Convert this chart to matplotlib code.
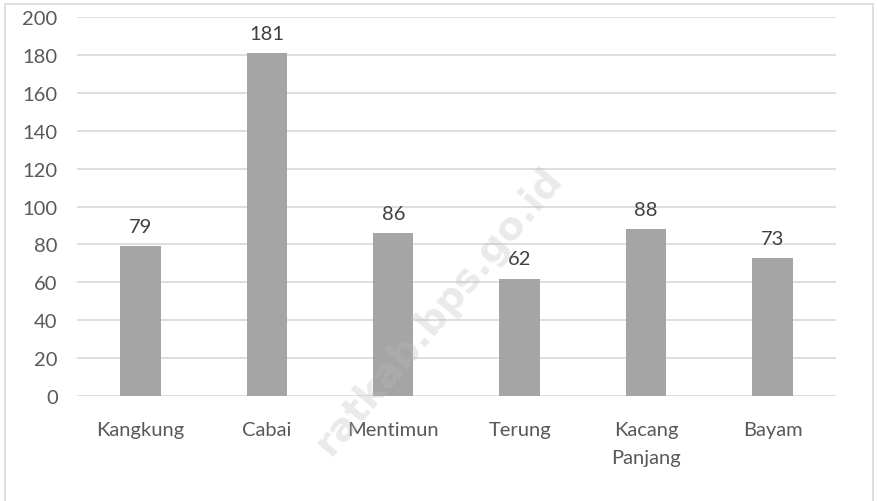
import matplotlib.pyplot as plt
from matplotlib.patches import Rectangle
import numpy as np

categories = ["Kangkung", "Cabai", "Mentimun", "Terung", "Kacang\nPanjang", "Bayam"]
values = [79, 181, 86, 62, 88, 73]
y_ticks = [0, 20, 40, 60, 80, 100, 120, 140, 160, 180, 200]

plt.rcParams['font.family'] = ['Lato', 'DejaVu Sans']

fig = plt.figure(figsize=(8.77, 5.02), dpi=100)
ax = fig.add_axes([0.088, 0.209, 0.865, 0.755])

x = np.arange(len(categories))
ax.bar(x, values, width=0.32, color="#A5A5A5", zorder=3)

for xi, v in zip(x, values):
    ax.annotate(str(v), (xi, v), xytext=(0, 8), textcoords="offset points",
                ha="center", va="bottom", fontsize=14.5, color="#404040")

ax.set_xlim(-0.5, len(categories) - 0.5)
ax.set_ylim(0, 200)
ax.set_yticks(y_ticks)
ax.set_xticks(x)
ax.set_xticklabels(categories, fontsize=14.5, color="#595959", linespacing=1.8)
ax.tick_params(axis="y", labelsize=14.5, labelcolor="#595959", length=0, pad=14)
ax.tick_params(axis="x", length=0, pad=18)
ax.grid(axis="y", color="#D9D9D9", linewidth=1.2, zorder=0)
for s in ax.spines.values():
    s.set_visible(False)

# outer chart frame
fig.patches.append(Rectangle((0.006, -0.01), 0.99, 1.0, transform=fig.transFigure,
                             fill=False, edgecolor="#D9D9D9", linewidth=1.2))

# watermark
fig.text(0.5, 0.38, "ratkab.bps.go.id", rotation=50, fontsize=28, fontweight="bold",
         color="#BBBBBB", alpha=0.3, ha="center", va="center", family="DejaVu Sans")

fig.savefig("out.png", dpi=100)
